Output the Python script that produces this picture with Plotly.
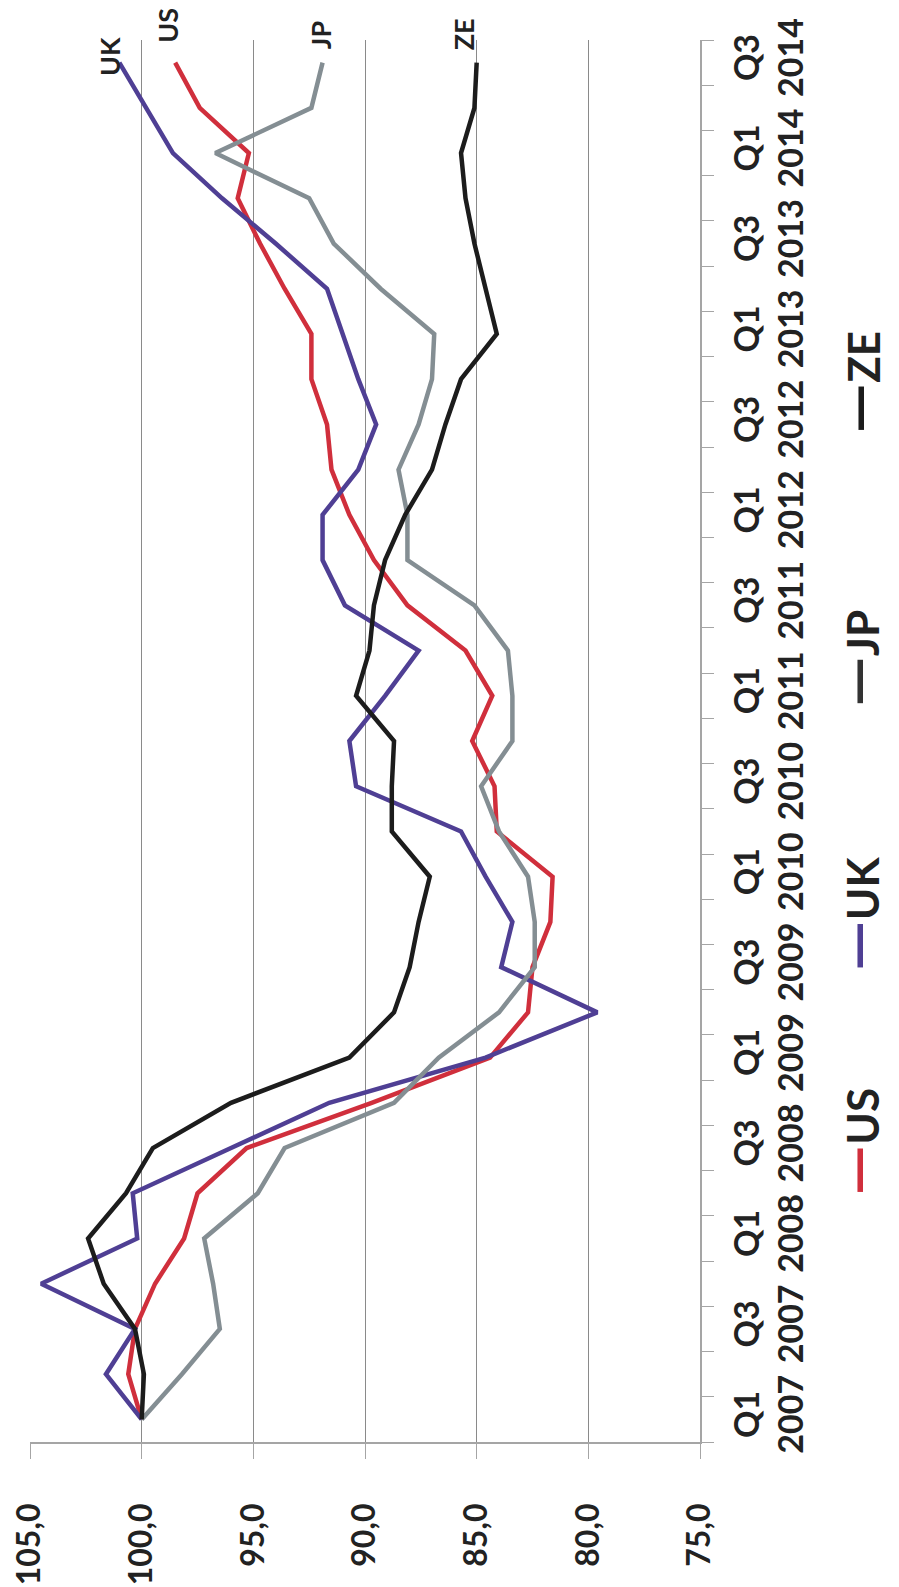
import plotly.graph_objects as go

# quarters Q1 2007 .. Q3 2014
quarters = [f"Q{q} {y}" for y in range(2007, 2015) for q in (1, 2, 3, 4)][:31]
tick_text = [q.replace(" ", "<br>") if q.startswith(("Q1", "Q3")) else "" for q in quarters]

us = [100.0, 100.6, 100.3, 99.4, 98.1, 97.5, 95.3, 89.7, 84.4, 82.7, 82.5, 81.7, 81.6, 84.1, 84.2, 85.2,
      84.3, 85.5, 88.1, 89.6, 90.7, 91.5, 91.7, 92.4, 92.4, 93.6, 94.7, 95.7, 95.2, 97.4, 98.5]
uk = [100.0, 101.6, 100.3, 104.5, 100.2, 100.4, 96.0, 91.6, 84.6, 79.6, 83.9, 83.4, 84.6, 85.7, 90.4, 90.7,
      89.1, 87.6, 90.9, 91.9, 91.9, 90.3, 89.5, 90.3, 91.0, 91.7, 94.0, 96.4, 98.6, 99.8, 101.0]
jp = [100.0, 98.2, 96.5, 96.8, 97.2, 94.8, 93.6, 88.7, 86.7, 84.0, 82.4, 82.4, 82.7, 84.0, 84.8, 83.4,
      83.4, 83.6, 85.1, 88.1, 88.1, 88.5, 87.6, 87.0, 86.9, 89.3, 91.4, 92.5, 96.7, 92.4, 91.9]
ze = [100.0, 99.9, 100.3, 101.7, 102.4, 100.7, 99.5, 96.0, 90.7, 88.7, 88.0, 87.6, 87.1, 88.8, 88.8, 88.7,
      90.4, 89.8, 89.6, 89.1, 88.2, 87.0, 86.4, 85.7, 84.1, 84.6, 85.1, 85.5, 85.7, 85.1, 85.0]

names = ["US", "UK", "JP", "ZE"]
colors = ["#d02f3c", "#4f3f94", "#848e93", "#1c1c1c"]
legend_dash = ["#d02f3c", "#4f3f94", "#333333", "#1c1c1c"]

FONT = "Lato"

fig = go.Figure()
for name, vals, col in zip(names, [us, uk, jp, ze], colors):
    # chart is turned on its side: values run along x, time along y
    fig.add_trace(go.Scatter(x=vals, y=quarters, mode="lines", name=name,
                             line=dict(color=col, width=4.5)))

# series labels at the end of each line
shifts = {"UK": (-10, 6), "US": (-8, 37), "JP": (-2, 28), "ZE": (-13, 28)}
for name, vals in zip(names, [us, uk, jp, ze]):
    dx, dy = shifts[name]
    fig.add_annotation(x=vals[-1], y=quarters[-1], text=name, showarrow=False, textangle=-90,
                       xanchor="center", yanchor="middle", xshift=dx, yshift=dy,
                       font=dict(family=FONT, size=27, weight="bold", color="#222222"))

# legend, rotated like the rest of the chart
legend_y = [0.214, 0.377, 0.559, 0.756]
for name, dcol, ly in zip(names, legend_dash, legend_y):
    fig.add_annotation(xref="paper", yref="paper", x=1.231, y=ly, showarrow=False, textangle=-90,
                       xanchor="center", yanchor="middle",
                       text=f"<span style='color:{dcol};font-size:64px'>—</span>{name}",
                       font=dict(family=FONT, size=44, weight="bold", color="#222222"))

fig.update_xaxes(range=[105, 75], dtick=5, tickformat=".1f", showgrid=True, gridcolor="#8a8a8a",
                 gridwidth=1, zeroline=False, showline=True, linecolor="#a5a5a5", linewidth=1.5,
                 ticks="outside", ticklen=15, tickcolor="#a5a5a5", tickangle=-90,
                 ticklabelstandoff=32, ticklabeloverflow="allow", automargin=False,
                 tickfont=dict(family=FONT, size=32, weight="bold", color="#222222"))
fig.update_yaxes(type="category", range=[-0.5, 30.5], side="right", tickvals=quarters, ticktext=tick_text,
                 tickson="boundaries", ticks="outside", ticklen=12, tickcolor="#a5a5a5",
                 showgrid=False, showline=True, linecolor="#a5a5a5", linewidth=1.5, tickangle=-90,
                 ticklabelstandoff=16, automargin=False,
                 tickfont=dict(family=FONT, size=34, weight="bold", color="#222222"))

# the page adds an 8px body margin, so margins are trimmed by that much on the left/top
fig.update_layout(width=899, height=1587, margin=dict(l=22, r=207, t=32, b=153),
                  paper_bgcolor="white", plot_bgcolor="white", showlegend=False, separators=",.")

fig.write_html("out.html")
